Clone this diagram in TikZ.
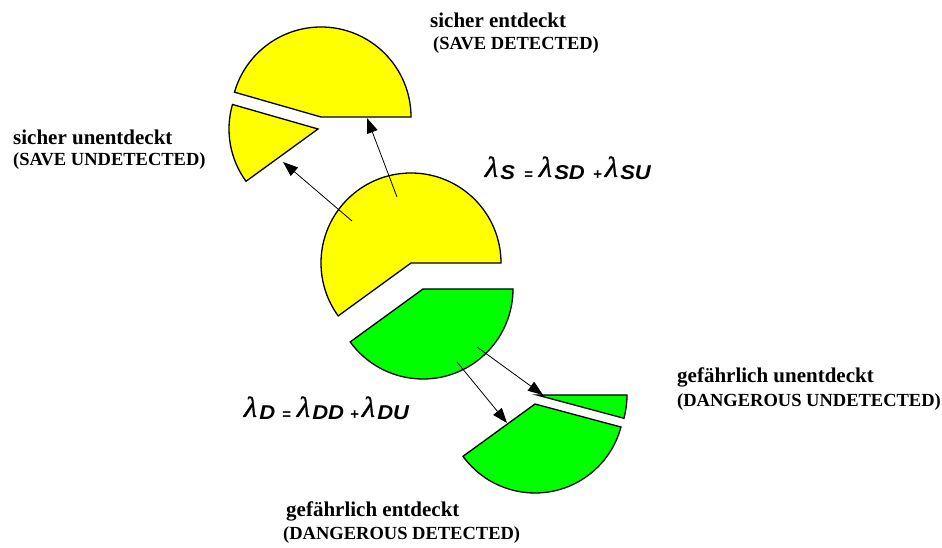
\documentclass[tikz,border=0pt]{standalone}
\usepackage{graphicx}
\usepackage{fontspec}
\setmainfont{Liberation Serif}
\newfontfamily\subfont{Liberation Sans}
\newfontfamily\lamfont[FakeSlant=0.22,FakeBold=1.2]{Liberation Serif}
\usetikzlibrary{arrows.meta}
\definecolor{pieyellow}{HTML}{FFFF00}
\definecolor{piegreen}{HTML}{00FF00}
\newcommand\lsub[1]{{\fontsize{29}{29}\selectfont\lamfont λ}\kern3pt\raisebox{-3pt}{\scalebox{1.1}[1]{\fontsize{20}{20}\selectfont\subfont\bfseries\itshape #1}}}
\newcommand\smallop[1]{\raisebox{-3pt}{\fontsize{15}{15}\selectfont\subfont\bfseries #1}}
\begin{document}
\begin{tikzpicture}[x=1pt,y=1pt,
  piece/.style={draw=black,line width=1.3pt,line join=miter},
  ypiece/.style={piece,fill=pieyellow},
  gpiece/.style={piece,fill=piegreen},
  conn/.style={draw=black,line width=0.8pt,-{Triangle[length=15pt,width=11pt]}},
  big/.style={inner sep=0pt,anchor=base west,font=\fontsize{21}{21}\selectfont\bfseries},
  small/.style={inner sep=0pt,anchor=base west,font=\fontsize{18.5}{18.5}\selectfont\bfseries},
  formula/.style={inner sep=0pt,anchor=base west}]
\useasboundingbox (0,0) rectangle (942,548);
% pieces
\draw[ypiece] (411,285) -- ++(0:90) arc[start angle=0,end angle=216,radius=90] -- cycle;
\draw[gpiece] (423,259) -- ++(216:90) arc[start angle=216,end angle=360,radius=90] -- cycle;
\draw[ypiece] (321,431) -- ++(0:90) arc[start angle=0,end angle=164,radius=90] -- cycle;
\draw[ypiece] (318,419) -- ++(164:89) arc[start angle=164,end angle=216,radius=89] -- cycle;
\draw[gpiece] (535,144) -- ++(216:89) arc[start angle=216,end angle=345,radius=89] -- cycle;
\draw[gpiece] (537,153) -- ++(345:90) arc[start angle=345,end angle=360,radius=90] -- cycle;
% arrow ends
\coordinate (s1) at (352,327); \coordinate (su) at (283,386);
\coordinate (s2) at (397,351); \coordinate (sd) at (367,430);
\coordinate (d1) at (477,201); \coordinate (du) at (543,153);
\coordinate (d2) at (457,186); \coordinate (dd) at (507,125);
\draw[conn] (s1) -- (su);
\draw[conn] (s2) -- (sd);
\draw[conn] (d1) -- (du);
\draw[conn] (d2) -- (dd);
% labels
\node[big] (tsd) at (430,520) {sicher entdeckt};
\node[small] (tsde) at (433,498) {(SAVE DETECTED)};
\node[big] (tsu) at (13,403) {sicher unentdeckt};
\node[small] (tsue) at (13,382) {(SAVE UNDETECTED)};
\node[big] (tdu) at (677,165) {gefährlich unentdeckt};
\node[small] (tdue) at (677,141) {(DANGEROUS UNDETECTED)};
\node[big] (tdd) at (286,31) {gefährlich entdeckt};
\node[small] (tdde) at (283,8) {(DANGEROUS DETECTED)};
% formulas
\node[formula] (fs) at (483,371) {\makebox[54pt][l]{\lsub{S}\hfill\smallop{=}\kern4pt}\makebox[66pt][l]{\lsub{SD}\hfill\smallop{+}\kern1pt}\lsub{SU}};
\node[formula] (fd) at (242,131) {\makebox[53pt][l]{\lsub{D}\hfill\smallop{=}\kern4pt}\makebox[65pt][l]{\lsub{DD}\hfill\smallop{+}\kern1pt}\lsub{DU}};
\end{tikzpicture}
\end{document}
